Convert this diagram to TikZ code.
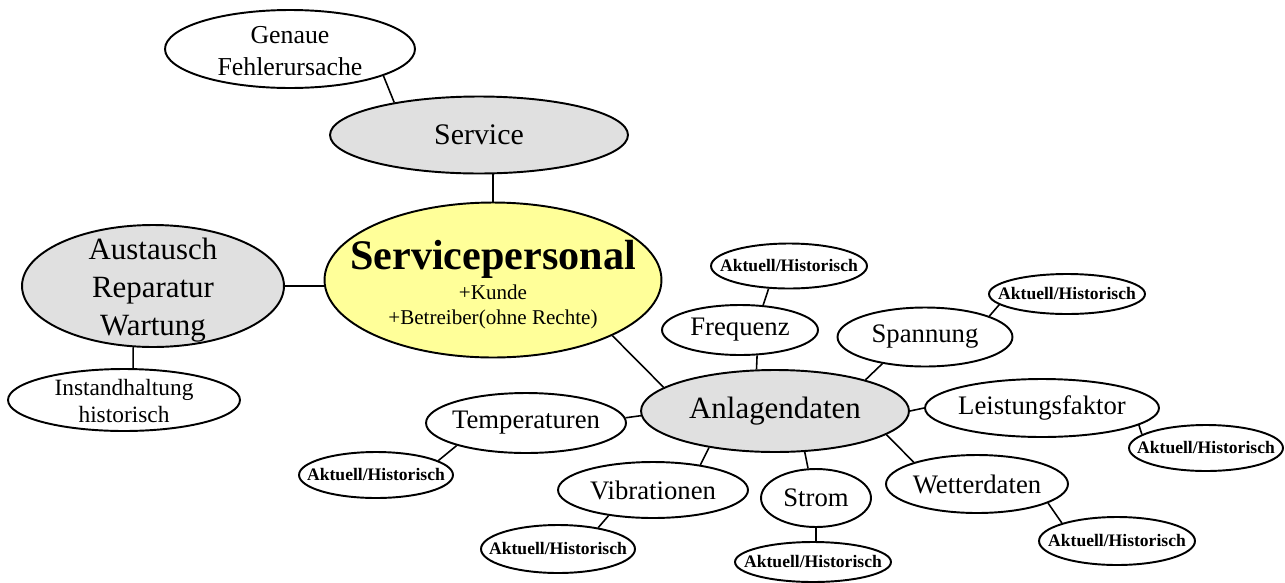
\documentclass[tikz,border=0pt]{standalone}
\usepackage{fontspec}
\setmainfont{Liberation Serif}
\usetikzlibrary{shapes.geometric}
\definecolor{hubyellow}{RGB}{255,255,153}
\tikzset{
  bubble/.style 2 args={draw, ellipse, line width=1.1pt, inner sep=0pt,
                        minimum width=#1, minimum height=#2},
  hub/.style={fill=black!12},
  link/.style={line width=0.9pt},
  big/.style={font=\fontsize{17.6}{21.5}\selectfont, align=center},
  mid/.style={font=\fontsize{15.2}{18}\selectfont, align=center},
  tag/.style={font=\fontsize{10}{12}\selectfont\bfseries}
}
\begin{document}
\begin{tikzpicture}[x=0.02cm, y=-0.02cm]
  \useasboundingbox (0,0) rectangle (1285,582);
  % centre and the service branch
  \node[bubble={6.74cm}{3.1cm}, fill=hubyellow] (staff) at (493,280) {};
  \node[align=center, font=\fontsize{12}{14.2}\selectfont] (stafftxt) at (493,285)
       {{\fontsize{24}{26}\selectfont\bfseries Servicepersonal}\\[2.8pt]+Kunde\\+Betreiber(ohne Rechte)};
  \node[bubble={5.96cm}{1.54cm}, hub] (service) at (479,135) {};
  \node[font=\fontsize{17}{20}\selectfont] (servicetxt) at (service) {Service};
  \node[bubble={5cm}{1.56cm}] (cause) at (290,49) {};
  \node[align=center, font=\fontsize{14.7}{18.7}\selectfont] (causetxt) at (290,51) {Genaue\\Fehlerursache};
  % maintenance branch
  \node[bubble={5.24cm}{2.44cm}, hub] (repair) at (153,286) {};
  \node[big] (repairtxt) at (153,290) {Austausch\\Reparatur\\Wartung};
  \node[bubble={4.64cm}{1.24cm}] (upkeep) at (124,400) {};
  \node[align=center, font=\fontsize{13.3}{15.3}\selectfont] (upkeeptxt) at (124,401) {Instandhaltung\\historisch};
  % plant data branch
  \node[bubble={5.36cm}{1.64cm}, hub] (plant) at (775,411) {};
  \node[big] (planttxt) at (plant) {Anlagendaten};
  \node[bubble={3.12cm}{1cm}] (freq) at (740,330) {};
  \node[mid] (freqtxt) at (freq) {Frequenz};
  \node[bubble={3.5cm}{1.18cm}] (volt) at (925,337) {};
  \node[mid] (volttxt) at (volt) {Spannung};
  \node[bubble={4.68cm}{1.16cm}] (pf) at (1042,408) {};
  \node[mid] (pftxt) at (pf) {Leistungsfaktor};
  \node[bubble={3.64cm}{1.16cm}] (weather) at (977,484) {};
  \node[mid] (weathertxt) at (weather) {Wetterdaten};
  \node[bubble={2.2cm}{1.16cm}] (amps) at (816,498) {};
  \node[mid] (ampstxt) at (amps) {Strom};
  \node[bubble={3.8cm}{1.12cm}] (vib) at (653,490) {};
  \node[mid] (vibtxt) at (vib) {Vibrationen};
  \node[bubble={4cm}{1.2cm}] (temp) at (526,423) {};
  \node[mid] (temptxt) at (temp) {Temperaturen};
  % current / history leaves
  \node[bubble={3.12cm}{0.9cm}] (freqhist) at (789,266) {};
  \node[tag] (freqhisttxt) at (freqhist) {Aktuell/Historisch};
  \node[bubble={3.12cm}{0.8cm}] (volthist) at (1067,294) {};
  \node[tag] (volthisttxt) at (volthist) {Aktuell/Historisch};
  \node[bubble={3.08cm}{0.92cm}] (pfhist) at (1206,448) {};
  \node[tag] (pfhisttxt) at (pfhist) {Aktuell/Historisch};
  \node[bubble={3.12cm}{0.96cm}] (weatherhist) at (1117,541) {};
  \node[tag] (weatherhisttxt) at (weatherhist) {Aktuell/Historisch};
  \node[bubble={3.12cm}{0.8cm}] (ampshist) at (813,562) {};
  \node[tag] (ampshisttxt) at (ampshist) {Aktuell/Historisch};
  \node[bubble={3.08cm}{0.96cm}] (vibhist) at (558,549) {};
  \node[tag] (vibhisttxt) at (vibhist) {Aktuell/Historisch};
  \node[bubble={3.08cm}{0.92cm}] (temphist) at (376,475) {};
  \node[tag] (temphisttxt) at (temphist) {Aktuell/Historisch};
  % connectors
  \draw[link] (cause.-16) -- (service.159);
  \draw[link] (staff.north) -- (staff.north |- service.south);
  \draw[link] (repair.east) -- (repair.east -| staff.west);
  \draw[link] (repair.-108) -- (upkeep.74);
  \draw[link] (staff.-25) -- (plant.168);
  \draw[link] (plant.114) -- (freq.-56);
  \draw[link] (freq.47) -- (freqhist.-132);
  \draw[link] (plant.19) -- (volt.-148);
  \draw[link] (volt.18) -- (volthist.-171);
  \draw[link] (plant.east) -- (pf.west);
  \draw[link] (pf.-10) -- (pfhist.168);
  \draw[link] (plant.-12) -- (weather.161);
  \draw[link] (weather.-15) -- (weatherhist.162);
  \draw[link] (plant.-54) -- (amps.105);
  \draw[link] (amps.south) -- (amps.south |- ampshist.north);
  \draw[link] (plant.-151) -- (vib.28);
  \draw[link] (vib.-150) -- (vibhist.28);
  \draw[link] (plant.182) -- (temp.3);
  \draw[link] (temp.-162) -- (temphist.13);
\end{tikzpicture}
\end{document}
